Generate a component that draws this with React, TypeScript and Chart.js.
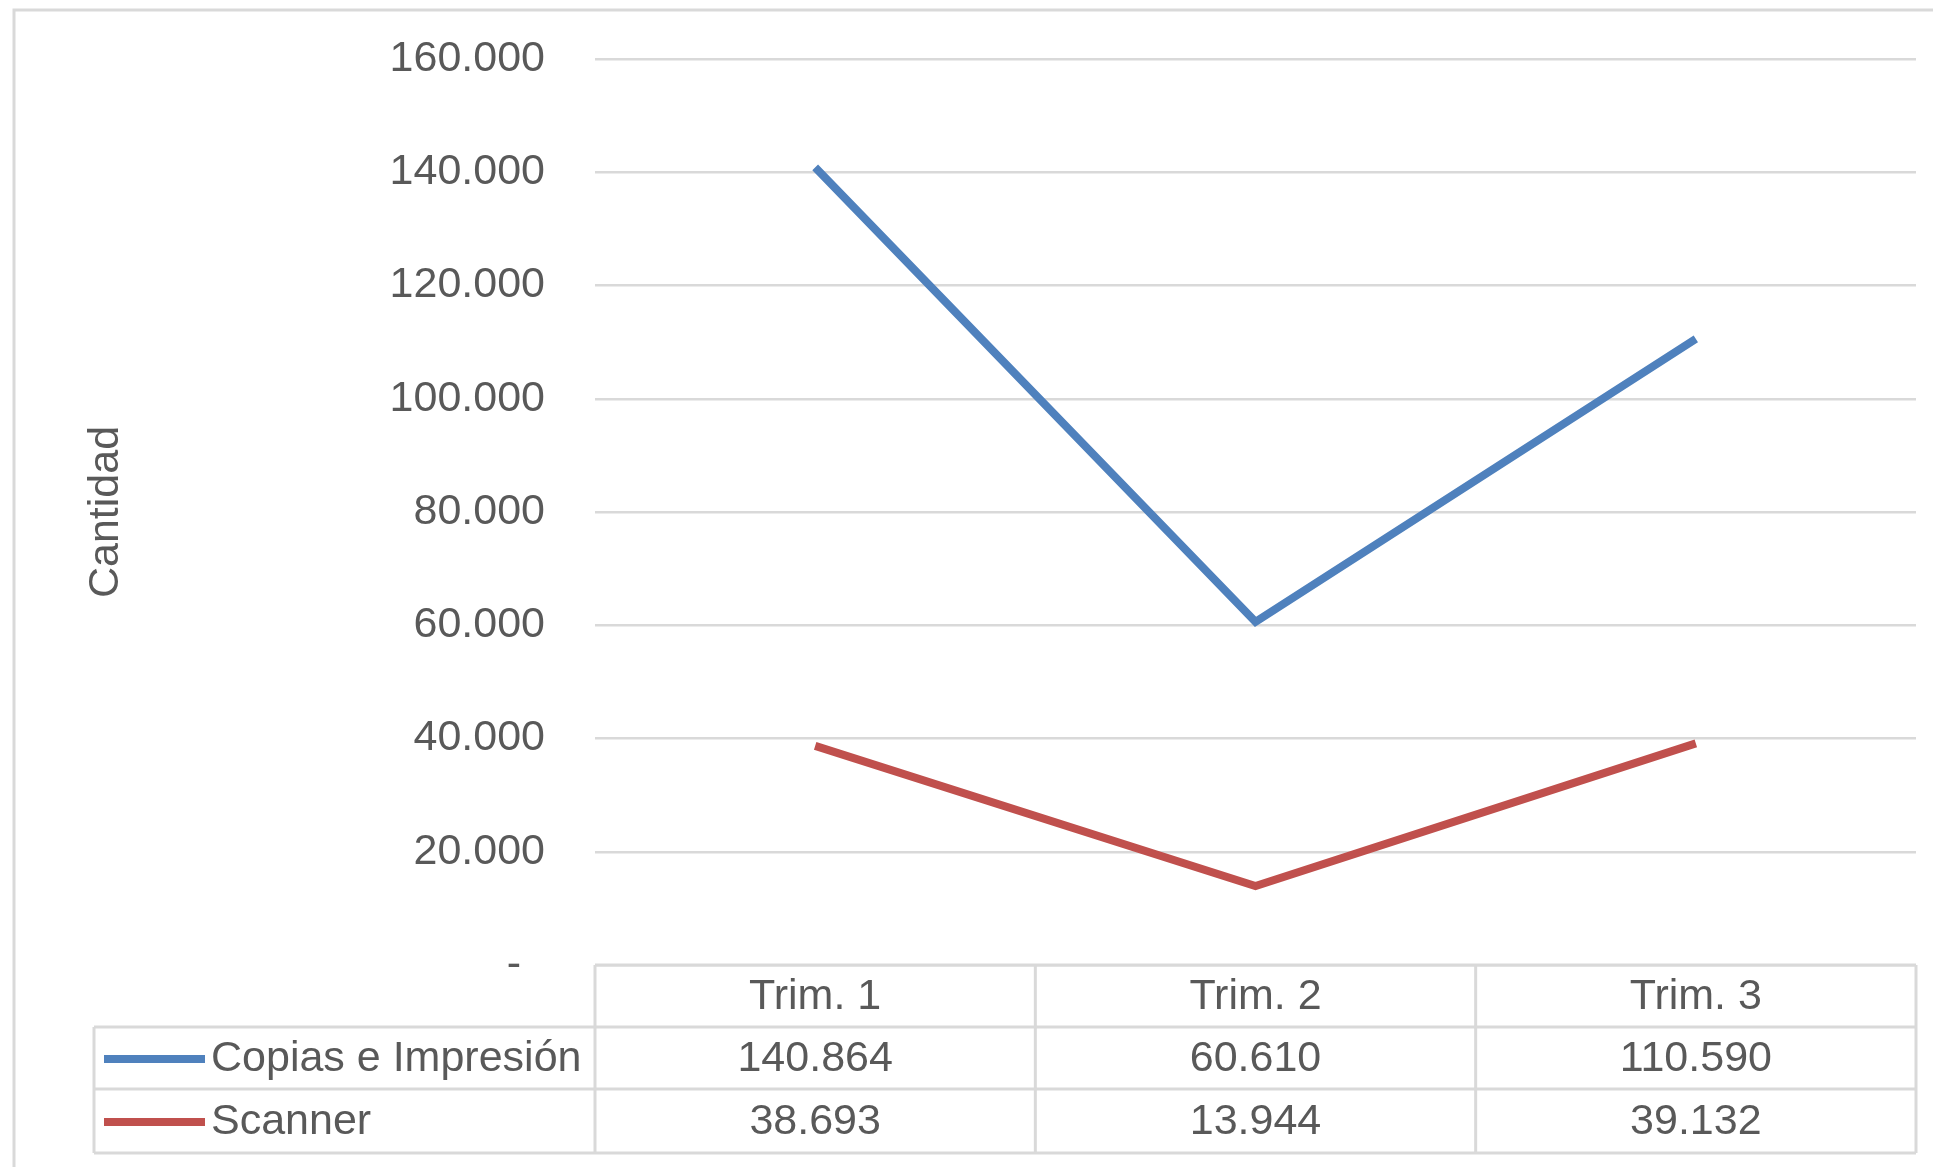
import React, { useEffect, useRef } from 'react';
import { Chart, registerables } from 'chart.js';

Chart.register(...registerables);

const categories = ['Trim. 1', 'Trim. 2', 'Trim. 3'];
const seriesNames = ['Copias e Impresión', 'Scanner'];
const copiasValues = [140864, 60610, 110590];
const scannerValues = [38693, 13944, 39132];
const seriesColors = ['#4f81bd', '#c0504d'];
const yMin = 0;
const yMax = 160000;
const yStep = 20000;
const yAxisTitle = 'Cantidad';

const FONT_FAMILY = '"Liberation Sans", Arial, sans-serif';
const FONT_SIZE = 43;
const TEXT_COLOR = '#595959';
const LINE_GREY = '#d9d9d9';

const fmt = (v: number): string =>
  Math.round(v).toString().replace(/\B(?=(\d{3})+(?!\d))/g, '.');

const tablePlugin = {
  id: 'dataTable',
  beforeDraw(chart: any) {
    const ctx = chart.ctx;
    ctx.save();
    ctx.strokeStyle = LINE_GREY;
    ctx.lineWidth = 3;
    ctx.beginPath();
    ctx.moveTo(14, chart.height);
    ctx.lineTo(14, 10);
    ctx.lineTo(chart.width, 10);
    ctx.stroke();
    ctx.restore();
  },
  afterDraw(chart: any) {
    const ctx = chart.ctx;
    const { left, right, bottom } = chart.chartArea;
    const xScale = chart.scales.x;
    const n = categories.length;
    const colW = (right - left) / n;
    const legendLeft = 94;
    const y0 = bottom;
    const y1 = y0 + 62;
    const y2 = y1 + 62;
    const y3 = y2 + 64;
    const rowTops = [y1, y2];
    const rowBottoms = [y2, y3];

    ctx.save();
    ctx.strokeStyle = LINE_GREY;
    ctx.lineWidth = 3;
    const line = (ax: number, ay: number, bx: number, by: number) => {
      ctx.beginPath();
      ctx.moveTo(ax, ay);
      ctx.lineTo(bx, by);
      ctx.stroke();
    };
    line(left, y0, right, y0);
    line(legendLeft, y1, right, y1);
    line(legendLeft, y2, right, y2);
    line(legendLeft, y3, right, y3);
    for (let i = 0; i <= n; i++) {
      const xb = left + i * colW;
      line(xb, y0, xb, y3);
    }
    line(legendLeft, y1, legendLeft, y3);

    ctx.font = `${FONT_SIZE}px ${FONT_FAMILY}`;
    ctx.fillStyle = TEXT_COLOR;
    ctx.textBaseline = 'middle';
    ctx.textAlign = 'center';
    categories.forEach((c, i) => {
      ctx.fillText(c, xScale.getPixelForValue(i), (y0 + y1) / 2 + 1);
    });

    chart.data.datasets.forEach((ds: any, r: number) => {
      const yc = (rowTops[r] + rowBottoms[r]) / 2;
      ctx.strokeStyle = ds.borderColor;
      ctx.lineWidth = 8;
      line(104, yc + 1, 205, yc + 1);
      ctx.textAlign = 'left';
      ctx.fillStyle = TEXT_COLOR;
      ctx.fillText(ds.label, 211, yc + 1);
      ctx.textAlign = 'center';
      (ds.data as number[]).forEach((v, i) => {
        ctx.fillText(fmt(v), xScale.getPixelForValue(i), yc + 1);
      });
    });
    ctx.restore();
  },
};

export default function App() {
  const canvasRef = useRef<HTMLCanvasElement | null>(null);

  useEffect(() => {
    if (!canvasRef.current) return;
    const chart = new Chart(canvasRef.current, {
      type: 'line',
      data: {
        labels: categories,
        datasets: [
          {
            label: seriesNames[0],
            data: copiasValues,
            borderColor: seriesColors[0],
            backgroundColor: seriesColors[0],
            borderWidth: 8,
            pointRadius: 0,
            tension: 0,
            borderJoinStyle: 'miter',
          },
          {
            label: seriesNames[1],
            data: scannerValues,
            borderColor: seriesColors[1],
            backgroundColor: seriesColors[1],
            borderWidth: 8,
            pointRadius: 0,
            tension: 0,
            borderJoinStyle: 'miter',
          },
        ],
      },
      options: {
        animation: false,
        responsive: false,
        devicePixelRatio: 1,
        layout: { padding: { left: 0, top: 59, right: 17, bottom: 202 } },
        plugins: {
          legend: { display: false },
          tooltip: { enabled: false },
          title: { display: false },
        },
        scales: {
          x: {
            type: 'category',
            display: false,
            offset: true,
            grid: { display: false },
          },
          y: {
            min: yMin,
            max: yMax,
            afterFit: (scale: any) => {
              scale.width = 595;
              scale.paddingTop = 0;
              scale.paddingBottom = 0;
            },
            border: { display: false },
            grid: {
              color: LINE_GREY,
              lineWidth: 2.5,
              drawTicks: false,
            },
            ticks: {
              stepSize: yStep,
              padding: 50,
              color: TEXT_COLOR,
              font: { family: FONT_FAMILY, size: FONT_SIZE },
              callback: (value: any) => (Number(value) === 0 ? '-  ' : fmt(Number(value))),
            },
            title: {
              display: true,
              text: yAxisTitle,
              color: TEXT_COLOR,
              font: { family: FONT_FAMILY, size: FONT_SIZE },
              padding: { top: 80, bottom: 0 },
            },
          },
        },
      },
      plugins: [tablePlugin],
    } as any);
    return () => chart.destroy();
  }, []);

  return (
    <div style={{ position: 'fixed', left: 0, top: 0, width: 1933, height: 1167, background: '#ffffff' }}>
      <canvas ref={canvasRef} width={1933} height={1167} style={{ display: 'block' }} />
    </div>
  );
}
